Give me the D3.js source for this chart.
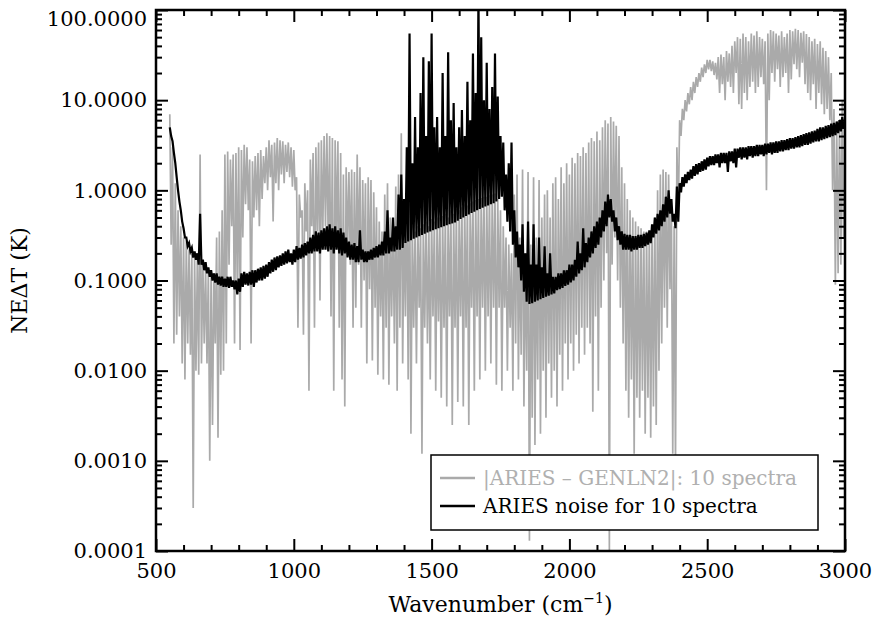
<!DOCTYPE html>
<meta charset="utf-8">
<style>

html, body {
  margin: 0;
  background: #fff;
}

svg text {
  font-family: "DejaVu Serif", serif;
  fill: #000;
}

.axis path {
  display: none;
}

.axis line {
  stroke: #000;
  stroke-width: 2px;
}

</style>

<body>
  <svg id="chart" width="877" height="621"></svg>
</body>

<script src="https://d3js.org/d3.v7.min.js"></script>
<script>

/* data: spectra binned every 10 cm-1 starting at 550, max and min in each bin */
var wnStart = 550
var wnStep = 10

var grayHi = [
  7.0, 3.0, 1.2, 0.6, 0.4,                                   // 550-590
  0.3, 0.27, 0.22, 0.2, 0.18, 0.17, 2.5, 0.16, 0.14, 0.13,    // 600
  0.13, 0.12, 0.3, 0.35, 0.6, 2.5, 2.7, 2.2, 2.5, 2.6,        // 700
  3.0, 2.8, 3.2, 3.0, 2.2, 2.1, 2.4, 2.6, 2.8, 2.4,           // 800
  3.0, 3.6, 3.2, 3.4, 3.8, 3.6, 3.5, 3.2, 3.4, 3.0,           // 900
  2.8, 1.4, 0.9, 0.6, 1.2, 1.0, 2.2, 2.6, 3.0, 3.4,           // 1000
  3.6, 4.0, 4.3, 4.0, 3.8, 3.6, 3.5, 2.6, 1.5, 1.8,           // 1100
  1.6, 1.7, 1.6, 2.5, 1.8, 1.3, 1.2, 1.4, 1.3, 0.95,          // 1200
  0.65, 0.45, 0.35, 0.9, 1.2, 0.5, 0.4, 1.1, 1.5, 4.3,        // 1300
  0.5, 1.3, 2.4, 0.4, 0.35, 0.4, 0.38, 0.42, 0.45, 0.4,       // 1400
  0.48, 0.45, 0.5, 0.5, 0.52, 0.55, 0.5, 0.6, 0.55, 0.62,     // 1500
  0.6, 0.65, 0.7, 0.68, 0.72, 0.75, 0.78, 0.8, 0.82, 0.85,    // 1600
  0.85, 0.88, 0.9, 0.92, 0.8, 0.6, 0.4, 0.3, 0.25, 0.2,       // 1700
  0.9, 1.5, 0.3, 1.7, 0.2, 1.6, 0.25, 1.4, 0.3, 1.3,          // 1800
  0.5, 0.9, 1.0, 0.5, 1.2, 1.4, 0.8, 1.8, 1.2, 2.0,           // 1900
  1.5, 2.3, 2.0, 2.6, 2.4, 3.0, 2.6, 3.4, 3.8, 3.5,           // 2000
  4.5, 3.6, 5.0, 6.0, 5.5, 6.5, 5.8, 5.2, 4.0, 1.8,           // 2100
  1.2, 0.8, 0.6, 0.5, 0.45, 0.4, 0.38, 0.35, 0.35, 0.33,      // 2200
  0.4, 0.5, 1.0, 1.5, 1.7, 1.6, 1.5, 0.8, 0.4, 3.0,           // 2300
  6.0, 8.0, 10, 12, 14, 16, 18, 20, 23, 25,                   // 2400
  28, 28, 27, 26, 30, 32, 30, 35, 33, 40,                     // 2500
  45, 50, 48, 55, 50, 45, 55, 52, 58, 50,                     // 2600
  48, 45, 55, 60, 58, 55, 52, 58, 50, 55,                     // 2700
  60, 58, 62, 60, 56, 58, 54, 50, 45, 48,                     // 2800
  42, 45, 38, 35, 30, 20, 8, 5, 6, 10                         // 2900
]

var grayLo = [
  0.25, 0.02, 0.025, 0.04, 0.012,
  0.008, 0.02, 0.015, 0.0003, 0.01, 0.009, 0.012, 0.02, 0.012, 0.001,
  0.0025, 0.02, 0.0018, 0.009, 0.01, 0.02, 0.15, 0.4, 0.02, 0.08,
  0.017, 0.3, 0.7, 0.6, 0.02, 0.5, 0.6, 0.4, 0.8, 1.2,
  1.0, 1.4, 0.45, 1.2, 1.0, 1.5, 1.2, 1.6, 1.4, 1.1,
  1.0, 0.03, 0.5, 0.025, 0.35, 0.006, 0.4, 0.03, 0.35, 0.06,
  0.3, 0.4, 0.25, 0.04, 0.006, 0.3, 0.03, 0.008, 0.004, 0.2,
  0.15, 0.03, 0.05, 0.15, 0.03, 0.1, 0.012, 0.08, 0.013, 0.05,
  0.009, 0.04, 0.008, 0.03, 0.007, 0.04, 0.02, 0.006, 0.03, 0.012,
  0.04, 0.008, 0.002, 0.03, 0.012, 0.05, 0.0012, 0.03, 0.02, 0.008,
  0.04, 0.006, 0.035, 0.005, 0.03, 0.004, 0.04, 0.0025, 0.03, 0.0045,
  0.04, 0.004, 0.03, 0.0025, 0.05, 0.006, 0.04, 0.008, 0.05, 0.01,
  0.04, 0.012, 0.05, 0.007, 0.05, 0.006, 0.05, 0.01, 0.03, 0.006,
  0.02, 0.008, 0.015, 0.004, 0.01, 0.00013, 0.003, 0.0015, 0.008, 0.002,
  0.01, 0.003, 0.012, 0.005, 0.01, 0.004, 0.015, 0.006, 0.02, 0.008,
  0.02, 0.01, 0.025, 0.012, 0.03, 0.015, 0.03, 0.02, 0.0035, 0.04,
  0.006, 0.05, 0.1, 0.2, 0.0001, 0.15, 0.3, 0.1, 0.05, 0.02,
  0.006, 0.003, 0.008, 0.0012, 0.005, 0.003, 0.006, 0.002, 0.005, 0.0018,
  0.004, 0.0025, 0.01, 0.02, 0.05, 0.03, 0.08, 0.0012, 0.0009, 0.5,
  4.0, 6.0, 7.5, 9, 10, 12, 14, 16, 18, 20,
  22, 21, 19, 17, 12, 15, 10, 16, 14, 12,
  20, 9, 8, 12, 10, 14, 16, 12, 14, 18,
  15, 1.0, 10, 20, 16, 22, 14, 18, 20, 12,
  17, 25, 22, 18, 26, 15, 12, 10, 15, 8,
  12, 9, 7, 8, 6, 1.0, 0.09, 0.12, 0.15, 0.3
]

var blackHi = [
  5.0, 3.5, 2.0, 1.0, 0.6,
  0.38, 0.3, 0.26, 0.23, 0.21, 0.2, 0.55, 0.17, 0.16, 0.14,
  0.13, 0.12, 0.12, 0.11, 0.11, 0.105, 0.11, 0.11, 0.1, 0.1,
  0.105, 0.12, 0.125, 0.12, 0.125, 0.13, 0.13, 0.135, 0.14, 0.145,
  0.15, 0.16, 0.17, 0.18, 0.185, 0.19, 0.2, 0.21, 0.22, 0.2,
  0.22, 0.24, 0.23, 0.25, 0.26, 0.27, 0.3, 0.32, 0.35, 0.34,
  0.36, 0.38, 0.4, 0.42, 0.38, 0.4, 0.36, 0.38, 0.34, 0.3,
  0.27, 0.25, 0.26, 0.24, 0.36, 0.22, 0.21, 0.21, 0.22, 0.23,
  0.24, 0.25, 0.27, 0.35, 0.6, 0.3, 0.5, 0.4, 0.9, 1.5,
  0.8, 3.0, 55, 2.0, 6.5, 3, 12, 30, 4, 27,
  55, 5, 6.5, 3, 20, 4, 34, 6, 9.3, 3,
  5, 7.8, 4, 16, 6, 33, 12, 150, 50, 10,
  26, 8, 14, 33, 11, 4, 3.4, 1.5, 2.0, 3.4,
  0.6, 0.35, 0.25, 0.42, 0.2, 0.45, 0.15, 0.42, 0.15, 0.3,
  0.14, 0.24, 0.12, 0.2, 0.11, 0.11, 0.12, 0.12, 0.13, 0.13,
  0.15, 0.15, 0.17, 0.27, 0.2, 0.38, 0.26, 0.3, 0.35, 0.4,
  0.45, 0.5, 0.6, 0.75, 0.9, 0.8, 0.6, 0.5, 0.4, 0.35,
  0.33, 0.32, 0.32, 0.31, 0.31, 0.32, 0.32, 0.33, 0.34, 0.36,
  0.42, 0.5, 0.55, 0.6, 0.7, 0.85, 1.0, 0.8, 0.55, 1.1,
  1.2, 1.4, 1.5, 1.6, 1.7, 1.85, 1.95, 2.0, 2.1, 2.2,
  2.3, 2.4, 2.4, 2.5, 2.5, 2.6, 2.6, 2.6, 2.7, 2.7,
  2.9, 2.9, 3.0, 3.0, 3.0, 3.1, 3.1, 3.1, 3.2, 3.2,
  3.2, 3.3, 3.3, 3.4, 3.4, 3.5, 3.5, 3.6, 3.6, 3.7,
  3.8, 3.8, 3.9, 4.0, 4.1, 4.2, 4.3, 4.4, 4.5, 4.6,
  4.8, 5.0, 5.0, 5.2, 5.3, 5.5, 5.6, 5.8, 6.0, 6.5
]

var blackLo = [
  4.0, 2.6, 1.4, 0.75, 0.45,
  0.3, 0.24, 0.21, 0.18, 0.17, 0.15, 0.15, 0.13, 0.12, 0.11,
  0.1, 0.095, 0.09, 0.088, 0.085, 0.085, 0.083, 0.085, 0.08, 0.07,
  0.075, 0.085, 0.09, 0.088, 0.09, 0.085, 0.095, 0.1, 0.1, 0.105,
  0.11, 0.12, 0.125, 0.13, 0.14, 0.145, 0.15, 0.155, 0.16, 0.15,
  0.16, 0.17, 0.175, 0.18, 0.19, 0.2, 0.2, 0.21, 0.21, 0.2,
  0.22, 0.22, 0.21, 0.22, 0.2, 0.22, 0.2, 0.19, 0.2, 0.18,
  0.17, 0.17, 0.16, 0.16, 0.17, 0.16, 0.16, 0.17, 0.17, 0.18,
  0.18, 0.19, 0.19, 0.2, 0.2, 0.21, 0.21, 0.22, 0.22, 0.23,
  0.26, 0.27, 0.28, 0.29, 0.3, 0.31, 0.32, 0.33, 0.34, 0.35,
  0.36, 0.37, 0.38, 0.39, 0.4, 0.41, 0.42, 0.43, 0.44, 0.46,
  0.48, 0.5, 0.52, 0.54, 0.56, 0.58, 0.6, 0.62, 0.64, 0.66,
  0.68, 0.7, 0.72, 0.75, 0.8, 0.85, 0.6, 0.45, 0.35, 0.25,
  0.18, 0.14, 0.1, 0.075, 0.058, 0.055, 0.056, 0.058, 0.06, 0.062,
  0.064, 0.066, 0.068, 0.07, 0.072, 0.078, 0.08, 0.083, 0.087, 0.09,
  0.095, 0.1, 0.11, 0.12, 0.13, 0.14, 0.16, 0.18, 0.2, 0.23,
  0.25, 0.3, 0.35, 0.4, 0.5, 0.45, 0.35, 0.28, 0.25, 0.22,
  0.22, 0.22, 0.21, 0.22, 0.22, 0.23, 0.23, 0.24, 0.25, 0.26,
  0.3, 0.33, 0.36, 0.4, 0.45, 0.5, 0.55, 0.45, 0.38, 0.45,
  0.95, 1.1, 1.2, 1.3, 1.35, 1.45, 1.5, 1.6, 1.65, 1.7,
  1.85, 1.9, 1.9, 2.0, 1.8, 2.0, 2.0, 1.6, 2.1, 2.0,
  1.8, 2.3, 2.2, 2.3, 2.2, 2.4, 2.3, 2.4, 2.4, 2.5,
  2.4, 2.5, 2.6, 2.5, 2.6, 2.6, 2.7, 2.7, 2.8, 2.8,
  2.9, 2.9, 3.0, 3.0, 3.1, 3.2, 3.2, 3.3, 3.4, 3.5,
  3.5, 3.6, 3.7, 3.8, 3.9, 4.0, 4.1, 4.3, 4.5, 4.8
]

var xTickValues = [500, 1000, 1500, 2000, 2500, 3000]
var yTickValues = [0.0001, 0.001, 0.01, 0.1, 1, 10, 100]
var legendLabels = ["|ARIES \u2013 GENLN2|: 10 spectra", "ARIES noise for 10 spectra"]
var seriesColors = ["#aaaaaa", "#000000"]

/* layout */
var plotLeft = 156, plotRight = 845, plotTop = 10, plotBottom = 551

var svg = d3.select("#chart")

var x = d3.scaleLinear().domain([500, 3000]).range([plotLeft, plotRight])
var y = d3.scaleLog().domain([0.0001, 100]).range([plotBottom, plotTop])

// each bin becomes two vertices: max at the bin start, min half a bin later
function zigzag(hi, lo) {
  var pts = []
  hi.forEach(function (h, i) {
    var w = wnStart + i * wnStep
    pts.push([w, h])
    pts.push([w + wnStep / 2, lo[i]])
  })
  return pts
}

var line = d3.line()
    .x(function (d) { return x(d[0]) })
    .y(function (d) { return y(d[1]) })

svg.append("defs").append("clipPath")
    .attr("id", "plot-clip")
  .append("rect")
    .attr("x", plotLeft)
    .attr("y", plotTop)
    .attr("width", plotRight - plotLeft)
    .attr("height", plotBottom - plotTop)

var plot = svg.append("g").attr("clip-path", "url(#plot-clip)")

plot.append("path")
    .attr("d", line(zigzag(grayHi, grayLo)))
    .attr("fill", "none")
    .attr("stroke", seriesColors[0])
    .attr("stroke-width", 1.7)

plot.append("path")
    .attr("d", line(zigzag(blackHi, blackLo)))
    .attr("fill", "none")
    .attr("stroke", seriesColors[1])
    .attr("stroke-width", 2.2)

/* legend */
var legend = svg.append("g").attr("transform", "translate(431,455)")

legend.append("rect")
    .attr("width", 387)
    .attr("height", 75)
    .attr("fill", "#fff")
    .attr("stroke", "#000")
    .attr("stroke-width", 1.5)

legendLabels.forEach(function (label, i) {
  var ly = 23 + i * 28
  legend.append("line")
      .attr("x1", 9).attr("x2", 44)
      .attr("y1", ly).attr("y2", ly)
      .attr("stroke", seriesColors[i])
      .attr("stroke-width", 2.5)
  legend.append("text")
      .attr("x", 52)
      .attr("y", ly + 7)
      .style("font-size", "20px")
      .style("fill", i === 0 ? "#b0b0b0" : "#000")
      .text(label)
})

/* axes */
var xMinor = d3.range(500, 3001, 100).filter(function (v) { return v % 500 !== 0 })
var yMinor = []
yTickValues.slice(0, -1).forEach(function (d) {
  for (var k = 2; k <= 9; k++) yMinor.push(d * k)
})

svg.append("g")
    .attr("class", "axis")
    .attr("transform", "translate(0," + plotBottom + ")")
    .call(d3.axisBottom(x).tickValues(xTickValues).tickSize(-12).tickPadding(12).tickFormat(d3.format("d")))
    .selectAll("text")
    .style("font-size", "21px")

svg.append("g")
    .attr("class", "axis")
    .attr("transform", "translate(0," + plotBottom + ")")
    .call(d3.axisBottom(x).tickValues(xMinor).tickSize(-6).tickFormat(""))

svg.append("g")
    .attr("class", "axis")
    .attr("transform", "translate(0," + plotTop + ")")
    .call(d3.axisTop(x).tickValues(xTickValues).tickSize(-12).tickFormat(""))

svg.append("g")
    .attr("class", "axis")
    .attr("transform", "translate(0," + plotTop + ")")
    .call(d3.axisTop(x).tickValues(xMinor).tickSize(-6).tickFormat(""))

var yAxis = svg.append("g")
    .attr("class", "axis")
    .attr("transform", "translate(" + plotLeft + ",0)")
    .call(d3.axisLeft(y).tickValues(yTickValues).tickSize(-12).tickPadding(9).tickFormat(d3.format(".4f")))

yAxis.selectAll("text")
    .style("font-size", "21px")

// the top label sits a little below its tick so it stays inside the picture
yAxis.selectAll(".tick")
    .filter(function (d) { return d === 100 })
    .select("text")
    .attr("y", 9)

svg.append("g")
    .attr("class", "axis")
    .attr("transform", "translate(" + plotLeft + ",0)")
    .call(d3.axisLeft(y).tickValues(yMinor).tickSize(-6).tickFormat(""))

svg.append("g")
    .attr("class", "axis")
    .attr("transform", "translate(" + plotRight + ",0)")
    .call(d3.axisRight(y).tickValues(yTickValues).tickSize(-12).tickFormat(""))

svg.append("g")
    .attr("class", "axis")
    .attr("transform", "translate(" + plotRight + ",0)")
    .call(d3.axisRight(y).tickValues(yMinor).tickSize(-6).tickFormat(""))

svg.append("rect")
    .attr("x", plotLeft)
    .attr("y", plotTop)
    .attr("width", plotRight - plotLeft)
    .attr("height", plotBottom - plotTop)
    .attr("fill", "none")
    .attr("stroke", "#000")
    .attr("stroke-width", 2.5)

/* titles */
var xTitle = svg.append("text")
    .attr("x", (plotLeft + plotRight) / 2)
    .attr("y", 612)
    .attr("text-anchor", "middle")
    .style("font-size", "22px")
xTitle.append("tspan").text("Wavenumber (cm")
xTitle.append("tspan").attr("dy", -9).style("font-size", "14px").text("\u22121")
xTitle.append("tspan").attr("dy", 9).text(")")

svg.append("text")
    .attr("transform", "translate(27," + (plotTop + plotBottom) / 2 + ") rotate(-90)")
    .attr("text-anchor", "middle")
    .style("font-size", "22px")
    .text("NE\u0394T (K)")

</script>
